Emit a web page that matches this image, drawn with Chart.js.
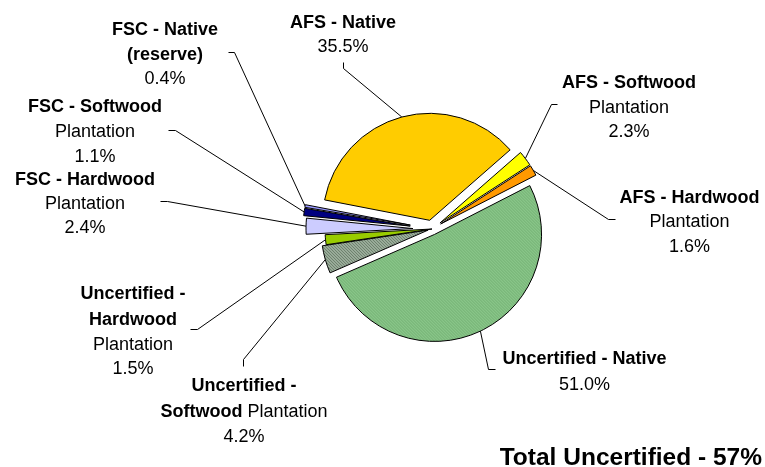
<!DOCTYPE html>
<html>
<head>
<meta charset="utf-8">
<script src="https://cdn.jsdelivr.net/npm/chart.js@4/dist/chart.umd.min.js"></script>
<style>
  html, body { margin: 0; padding: 0; background: #fff; }
  #wrap { width: 765px; height: 467px; position: relative; }
</style>
</head>
<body>
<div id="wrap"><canvas id="pie"></canvas></div>
<script>
// data
var categories = ['AFS - Native', 'AFS - Softwood Plantation', 'AFS - Hardwood Plantation',
  'Uncertified - Native', 'Uncertified - Softwood Plantation', 'Uncertified - Hardwood Plantation',
  'FSC - Hardwood Plantation', 'FSC - Softwood Plantation', 'FSC - Native (reserve)'];
var shares = [35.5, 2.3, 1.6, 51.0, 4.2, 1.5, 2.4, 1.1, 0.4];
var totalUncertified = 57;

// how far each slice is pulled out (px)
var explode = [9, 10, 10, 6, 4, 0, 19, 22, 22];

function hatch(bg, fg) {
  var c = document.createElement('canvas');
  c.width = 3; c.height = 3;
  var g = c.getContext('2d');
  g.fillStyle = bg;
  g.fillRect(0, 0, 3, 3);
  g.fillStyle = fg;
  for (var i = 0; i < 3; i++) g.fillRect(i, i, 1, 1);
  return g.createPattern(c, 'repeat');
}

var colors = [
  '#FFCC00', '#FFFF00', '#FF9900',
  hatch('#8FCC8F', '#66A366'),
  hatch('#A3B5A3', '#5C705C'),
  '#99CC00', '#CCCCFF', '#000080', '#9999FF'
];

// label text, anchor and leader tick, same order as categories
var B = true, R = false;
var labelLayout = [
  {x: 343,   base: [28, 52],            lines: [[['AFS - Native', B]]],                                   tick: [[343, 62], [343, 68]]},
  {x: 629,   base: [88, 113, 137],      lines: [[['AFS - Softwood', B]], [['Plantation', R]]],           tick: [[557, 104], [551, 104]]},
  {x: 689.5, base: [203, 227, 252],     lines: [[['AFS - Hardwood', B]], [['Plantation', R]]],           tick: [[615, 219], [608, 219]]},
  {x: 584.5, base: [364, 390],          lines: [[['Uncertified - Native', B]]],                           tick: [[495, 369], [488, 369]]},
  {x: 244,   base: [391, 417, 442],     lines: [[['Uncertified -', B]], [['Softwood', B], [' Plantation', R]]], tick: [[243, 366], [243, 359]]},
  {x: 133,   base: [299, 325, 350, 374], lines: [[['Uncertified -', B]], [['Hardwood', B]], [['Plantation', R]]], tick: [[190, 329], [197, 329]]},
  {x: 85,    base: [185, 209, 233],     lines: [[['FSC - Hardwood', B]], [['Plantation', R]]],           tick: [[160, 201], [167, 201]]},
  {x: 95,    base: [112, 137, 162],     lines: [[['FSC - Softwood', B]], [['Plantation', R]]],           tick: [[168, 130], [175, 130]]},
  {x: 165,   base: [35, 60, 84],        lines: [[['FSC - Native', B]], [['(reserve)', B]]],              tick: [[228, 52], [234, 52]]}
];

var FONT = '"Liberation Sans", Arial, sans-serif';

var explodePlugin = {
  id: 'explode',
  beforeDatasetsDraw: function (chart) {
    var meta = chart.getDatasetMeta(0);
    meta.data.forEach(function (arc, i) {
      if (arc._exploded) return;
      var orig = arc.draw;
      arc.draw = function (ctx) {
        var a = (this.startAngle + this.endAngle) / 2;
        ctx.save();
        ctx.translate(Math.cos(a) * explode[i], Math.sin(a) * explode[i]);
        orig.call(this, ctx);
        ctx.restore();
      };
      arc._exploded = true;
    });
  }
};

var labelPlugin = {
  id: 'labels',
  afterDraw: function (chart) {
    var ctx = chart.ctx;
    var meta = chart.getDatasetMeta(0);
    ctx.save();
    ctx.fillStyle = '#000';
    ctx.textBaseline = 'alphabetic';
    ctx.textAlign = 'left';
    labelLayout.forEach(function (lab, i) {
      var lines = lab.lines.concat([[[shares[i].toFixed(1) + '%', R]]]);
      lines.forEach(function (segs, j) {
        var w = 0;
        segs.forEach(function (s) {
          ctx.font = (s[1] ? 'bold ' : '') + '18px ' + FONT;
          w += ctx.measureText(s[0]).width;
        });
        var x = lab.x - w / 2;
        segs.forEach(function (s) {
          ctx.font = (s[1] ? 'bold ' : '') + '18px ' + FONT;
          ctx.fillText(s[0], x, lab.base[j]);
          x += ctx.measureText(s[0]).width;
        });
      });
      // leader line
      var arc = meta.data[i];
      var a = (arc.startAngle + arc.endAngle) / 2;
      var r = arc.outerRadius + explode[i];
      var px = arc.x + Math.cos(a) * r;
      var py = arc.y + Math.sin(a) * r;
      ctx.strokeStyle = '#000';
      ctx.lineWidth = 1;
      ctx.beginPath();
      ctx.moveTo(lab.tick[0][0] + 0.5, lab.tick[0][1] + 0.5);
      ctx.lineTo(lab.tick[1][0] + 0.5, lab.tick[1][1] + 0.5);
      ctx.lineTo(px, py);
      ctx.stroke();
    });
    ctx.font = 'bold 24.5px ' + FONT;
    ctx.textAlign = 'right';
    ctx.fillText('Total Uncertified - ' + totalUncertified + '%', 762, 465);
    ctx.restore();
  }
};

var ctx = document.getElementById('pie').getContext('2d');
var myChart = new Chart(ctx, {
  type: 'pie',
  data: {
    labels: categories,
    datasets: [{
      data: shares,
      backgroundColor: colors,
      borderColor: '#000',
      borderWidth: 1,
      borderJoinStyle: 'miter',
      hoverOffset: 0,
      offset: 0,
      radius: 107
    }]
  },
  options: {
    responsive: true,
    maintainAspectRatio: false,
    animation: false,
    rotation: 281,
    layout: { padding: { left: 99, right: 0, top: 0, bottom: 9 } },
    plugins: {
      legend: { display: false },
      tooltip: { enabled: false }
    },
    events: []
  },
  plugins: [explodePlugin, labelPlugin]
});
</script>
</body>
</html>
